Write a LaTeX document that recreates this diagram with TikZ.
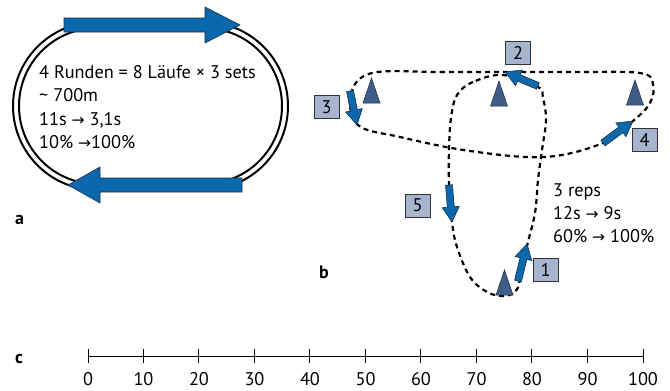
\documentclass[tikz,border=0pt]{standalone}
\usepackage{fontspec}
\setmainfont{PT Sans}
\newfontfamily\symf[Scale=0.85]{DejaVu Sans}
\newcommand\arr{{\symf →}}
\usetikzlibrary{calc}
\definecolor{arrowblue}{RGB}{10,104,172}
\definecolor{arrowedge}{RGB}{25,45,75}
\definecolor{conefill}{RGB}{62,93,135}
\definecolor{boxfill}{RGB}{166,180,205}
\definecolor{boxedge}{RGB}{50,50,55}
\begin{document}
\begin{tikzpicture}[x=1pt,y=-1pt,
  every node/.style={inner sep=0pt, font=\fontsize{18.3}{23.4}\selectfont},
  track/.style={line width=2pt},
  route/.style={line width=2.2pt, dash pattern=on 5pt off 4pt},
  blockfill/.style={fill=arrowblue, draw=arrowedge, line width=0.6pt},
  numbox/.style={draw=boxedge, fill=boxfill, line width=0.8pt,
                 minimum width=25pt, minimum height=23pt},
  panel/.style={font=\fontsize{18}{22}\selectfont\bfseries},
  pics/blockarrow/.style n args={4}{code={
    \filldraw[blockfill] (0,-#2) -- ({#1-#4},-#2) -- ({#1-#4},-#3) -- (#1,0)
      -- ({#1-#4},#3) -- ({#1-#4},#2) -- (0,#2) -- cycle;}},
  pics/cone/.style={code={
    \filldraw[fill=conefill, draw=arrowedge, line width=0.5pt]
      (0,0) -- (8.5,25) -- (-8.5,25) -- cycle;}},
]
\useasboundingbox (0,0) rectangle (670,391);

% ---- a: running track with lap directions
\draw[track, rounded corners=84pt] (13,22) rectangle (288,190);
\draw[track, rounded corners=78pt] (19,28) rectangle (282,184);
\pic at (64,25) {blockarrow={176}{7}{18}{35}};
\pic[rotate=180] at (242,185) {blockarrow={174}{7}{18}{32}};
\node[anchor=north west, align=left] (info) at (39,65)
  {4 Runden = 8 Läufe × 3 sets\\ \textasciitilde\ 700m\\ 11s \arr{} 3,1s\\ 10\% \arr100\%};
\node[panel, anchor=base west] (la) at (15,224) {a};

% ---- b: cone course
\draw[route] plot[smooth cycle, tension=0.6] coordinates {
  (372,73) (440,72) (505,72) (575,72) (640,73) (653,84) (650,103) (633,121)
  (603,143) (545,157) (470,151) (400,137) (358,125) (351,94)};
\draw[route] plot[smooth cycle, tension=0.6] coordinates {
  (503,75) (473,82) (457,95) (451,118) (449,150) (449,185) (452,222)
  (457,247) (470,277) (487,292) (503,296) (515,292) (520,280) (527,246)
  (535,213) (538,180) (542,150) (546,120) (543,98) (538,87)};

\pic at (371.5,78) {cone};
\pic at (499,81) {cone};
\pic at (635,80) {cone};
\pic at (504.5,270) {cone};

\pic[rotate=157]   at (538,86)  {blockarrow={35.8}{3.5}{8.5}{15}};
\pic[rotate=-78.4] at (350,91)  {blockarrow={34.7}{3.5}{8.5}{15}};
\pic[rotate=36.3]  at (603,143) {blockarrow={37.2}{3.5}{8.5}{15}};
\pic[rotate=-85.4] at (449,185) {blockarrow={37.1}{3.5}{8.5}{15}};
\pic[rotate=76.3]  at (518,281) {blockarrow={38.1}{3.5}{8.5}{15}};

\node[numbox] (n1) at (545.5,270) {1};
\node[numbox] (n2) at (518,52.5) {2};
\node[numbox] (n3) at (326.5,107) {3};
\node[numbox] (n4) at (644.5,139.5) {4};
\node[numbox] (n5) at (417.5,205.5) {5};

\node[anchor=north west, align=left] (reps) at (553,183)
  {3 reps\\ 12s \arr{} 9s\\ 60\% \arr{} 100\%};
\node[panel, anchor=base west] (lb) at (319,278) {b};

% ---- c: scale 0..100
\draw[line width=1pt] (88,356) coordinate (s0) -- (643,356) coordinate (s100);
\foreach \k in {0,10,...,100}{
  \draw[line width=1pt] ($(s0)!\k/100!(s100)$) ++(0,-7) -- ++(0,14);
  \node[anchor=base] (t\k) at ($(s0)!\k/100!(s100)+(0,29)$) {\k};
}
\node[panel, anchor=base west] (lc) at (15,363) {c};
\end{tikzpicture}
\end{document}
